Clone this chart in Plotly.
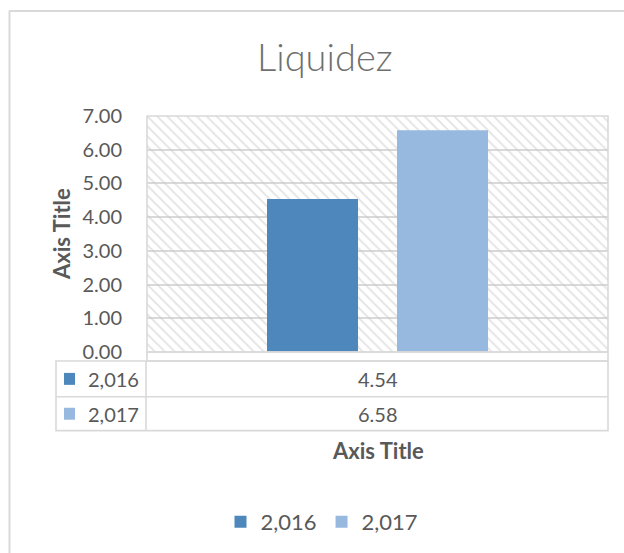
import plotly.graph_objects as go

# ---- data ----
series_names = ["2,016", "2,017"]
series_values = [4.54, 6.58]
series_colors = ["#4E87BC", "#97B9E0"]
category = [0]
y_ticks = [0, 1, 2, 3, 4, 5, 6, 7]
chart_title = "Liquidez"
axis_title = "Axis Title"

# ---- layout geometry (page pixels) ----
FW, FH = 624, 553
L, R, T, B = 147, 608, 116, 353
PW, PH = R - L, B - T
FONT = "Lato, Calibri, Carlito, sans-serif"
TXT = "#595959"
GRID = "#d9d9d9"


def fx(px):
    return (px - L) / PW


def fy(py):
    return (B - py) / PH


fig = go.Figure()

# hatched plot-area background
fig.add_trace(go.Bar(
    x=category, y=[max(y_ticks)], base=0, offset=-0.5, width=1,
    marker=dict(color="rgba(0,0,0,0)", line=dict(width=0),
                pattern=dict(shape="\\", fgcolor="#c8c8c8", size=7, solidity=0.27)),
    showlegend=False, hoverinfo="skip"))

for name, val, col in zip(series_names, series_values, series_colors):
    fig.add_trace(go.Bar(x=category, y=[val], name=name,
                         marker=dict(color=col, line=dict(width=0))))

shapes = []


def rect(x0, y0, x1, y1):
    shapes.append(dict(type="rect", xref="paper", yref="paper",
                       x0=fx(x0), x1=fx(x1), y0=fy(y0), y1=fy(y1),
                       line=dict(color=GRID, width=1.6), fillcolor="rgba(0,0,0,0)",
                       layer="above"))


def line(x0, y0, x1, y1, color=GRID, w=1.6):
    shapes.append(dict(type="line", xref="paper", yref="paper",
                       x0=fx(x0), x1=fx(x1), y0=fy(y0), y1=fy(y1),
                       line=dict(color=color, width=w), layer="above"))


# chart frame (runs off the right and bottom edges)
line(9.5, 10, 9.5, FH + 10, color="#d9d9d9", w=2)
line(9.5, 10.5, FW + 10, 10.5, color="#d9d9d9", w=2)
# plot-area border
rect(L, T, R, B)
# data table
rect(L, B, R, 362)
rect(56, 362, R, 432)
line(56, 398, R, 398)
line(146, 362, 146, 432)

annotations = []
row_centers = [380, 415]
for name, val, col, yc in zip(series_names, series_values, series_colors, row_centers):
    shapes.append(dict(type="rect", xref="paper", yref="paper",
                       x0=fx(64), x1=fx(75), y0=fy(yc + 6), y1=fy(yc - 6),
                       line=dict(width=0), fillcolor=col, layer="above"))
    annotations.append(dict(xref="paper", yref="paper", x=fx(86), y=fy(yc),
                            xanchor="left", yanchor="middle", showarrow=False,
                            text=name, font=dict(family=FONT, size=20, color=TXT)))
    annotations.append(dict(xref="paper", yref="paper", x=fx((L + R) / 2), y=fy(yc),
                            xanchor="center", yanchor="middle", showarrow=False,
                            text=f"{val:.2f}", font=dict(family=FONT, size=20, color=TXT)))

# titles
annotations.append(dict(xref="paper", yref="paper", x=fx(325), y=fy(56),
                        xanchor="center", yanchor="middle", showarrow=False,
                        text=chart_title,
                        font=dict(family=FONT, size=38, color="#707070", weight=300)))
annotations.append(dict(xref="paper", yref="paper", x=fx((L + R) / 2), y=fy(452),
                        xanchor="center", yanchor="middle", showarrow=False,
                        text=f"<b>{axis_title}</b>",
                        font=dict(family=FONT, size=22, color=TXT)))
annotations.append(dict(xref="paper", yref="paper", x=fx(61), y=0.5,
                        xanchor="center", yanchor="middle", showarrow=False,
                        textangle=-90, text=f"<b>{axis_title}</b>",
                        font=dict(family=FONT, size=22, color=TXT)))

fig.update_layout(
    width=FW, height=FH,
    margin=dict(l=L, r=FW - R, t=T, b=FH - B),
    paper_bgcolor="white", plot_bgcolor="white",
    barmode="group", bargap=0.436, bargroupgap=0.30,
    font=dict(family=FONT, size=20, color=TXT),
    showlegend=True,
    legend=dict(orientation="h", x=fx(322), y=fy(522), xanchor="center",
                yanchor="middle", font=dict(family=FONT, size=22, color=TXT),
                itemclick=False, bgcolor="rgba(0,0,0,0)"),
    xaxis=dict(range=[-0.5, 0.5], showticklabels=False, showgrid=False,
               zeroline=False, showline=False, fixedrange=True),
    yaxis=dict(range=[min(y_ticks), max(y_ticks)], tickvals=y_ticks, tickformat=".2f",
               showgrid=True, gridcolor=GRID, gridwidth=2, zeroline=False,
               showline=False, ticks="outside", ticklen=20, tickcolor="rgba(0,0,0,0)",
               tickfont=dict(family=FONT, size=20, color=TXT), fixedrange=True),
    shapes=shapes, annotations=annotations,
)

fig.write_html("out.html",
               config={"displayModeBar": False},
               post_script="document.body.style.margin='0';document.body.style.overflow='hidden';")
